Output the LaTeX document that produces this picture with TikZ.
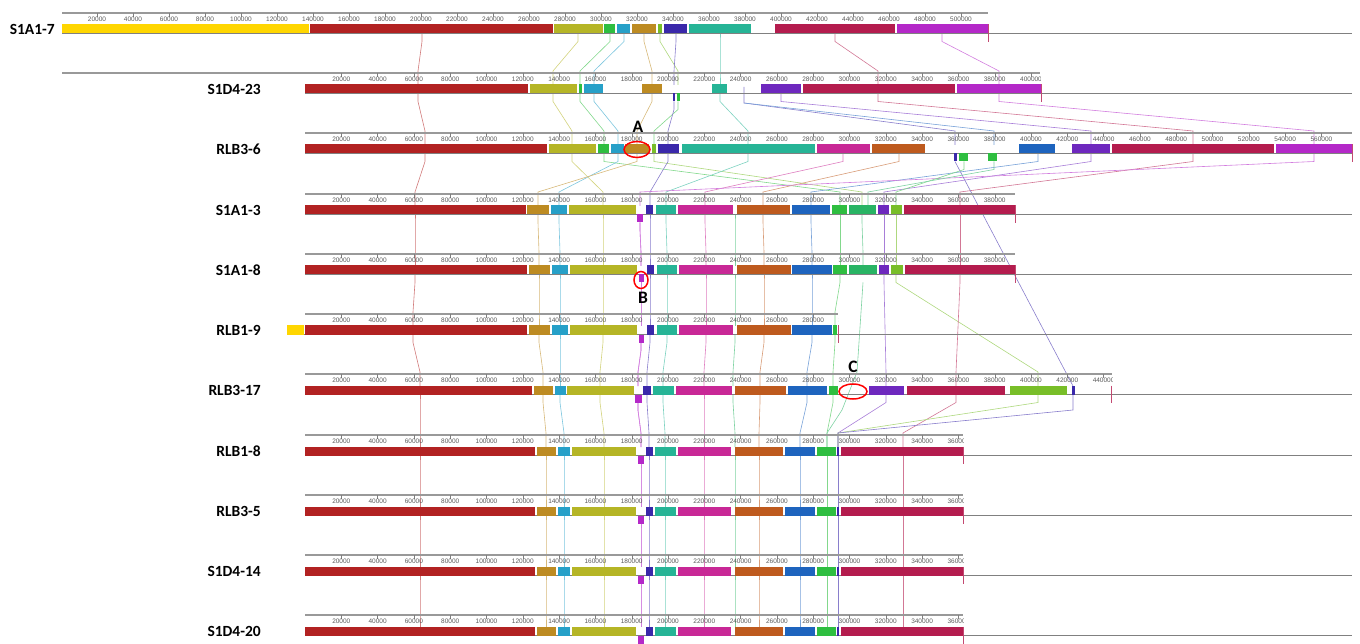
\documentclass[tikz,border=0pt]{standalone}
\usepackage{fontspec}
\setmainfont{Liberation Sans}
\newfontfamily\lblfont{Carlito}
\usetikzlibrary{positioning}
\definecolor{cY}{RGB}{255,214,0}
\definecolor{cR}{RGB}{178,34,34}
\definecolor{cO}{RGB}{181,181,38}
\definecolor{cG}{RGB}{46,190,64}
\definecolor{cB}{RGB}{38,160,200}
\definecolor{cAu}{RGB}{189,139,34}
\definecolor{cYG}{RGB}{120,190,40}
\definecolor{cDB}{RGB}{58,40,170}
\definecolor{cT}{RGB}{38,180,150}
\definecolor{cC}{RGB}{180,28,78}
\definecolor{cV}{RGB}{180,40,200}
\definecolor{cPM}{RGB}{200,40,150}
\definecolor{cOr}{RGB}{190,90,30}
\definecolor{cRB}{RGB}{30,100,190}
\definecolor{cP}{RGB}{110,40,190}
\definecolor{cSG}{RGB}{40,180,100}
\tikzset{
  trk/.style={font=\lblfont\bfseries\fontsize{15.5}{16}\selectfont, anchor=east, inner sep=0pt},
  num/.style={font=\fontsize{6.5}{7}\selectfont, text=black!65, inner sep=0pt},
  lnk/.style={draw=#1!60!white, line width=0.6pt},
  rul/.style={draw=black!40, line width=1.2pt},
  base/.style={draw=black!50, line width=0.8pt},
  hilite/.style={draw=red, line width=1.5pt},
  tag/.style={font=\lblfont\bfseries\fontsize{17.5}{18}\selectfont, inner sep=0pt}
}

\begin{document}
\begin{tikzpicture}[x=1pt, y=-1pt]
  \useasboundingbox (0,0) rectangle (1360,644);

  % connecting lines between the genomes
  \foreach \ya/\yb/\lst in {
    33.5/73/{422/418/cR, 578/553/cO, 610/580/cG, 624/594/cB, 644/652/cAu, 660/678/cYG, 676/674/cDB, 720/720/cT, 835/878/cC, 942/999/cV},
    93.5/133/{418/425/cR, 553/572/cO, 580/604/cG, 594/618/cB, 652/637/cAu, 720/748/cT, 781/1091/cP, 878/1193/cC, 999/1314/cV},
    101.5/133/{678/654/cG, 674/668/cDB},
    153.5/194/{425/415/cR, 572/603/cO, 604/840/cG, 618/559/cB, 637/538/cAu, 654/862/cYG, 668/650/cDB, 748/666/cT, 843/705/cPM, 899/763/cOr, 1038/811/cRB, 1091/884/cP, 1193/960/cC, 1314/640/cV},
    161.5/194/{964/896/cG, 994/868/cSG},
    214.5/254/{415/415/cR, 538/539/cAu, 559/560/cB, 603/603/cO, 650/650/cDB, 666/667/cT, 705/706/cPM, 735/735/cSG, 763/764/cOr, 811/812/cRB, 840/840/cG, 862/863/cSG, 884/884/cP, 896/896/cYG, 960/960/cC},
    222.5/254/{640/641/cV, 640/641/cV},
    274.5/314/{415/413/cR, 539/539/cAu, 560/560/cB, 603/603/cO, 650/650/cDB, 667/667/cT, 706/706/cPM, 735/735/cSG, 764/764/cOr, 812/812/cRB, 840/835/cG},
    274.5/374/{884/886/cP, 896/1038/cYG, 960/956/cC},
    282.5/314/{641/641/cV, 641/641/cV},
    334.5/374/{413/420/cR, 539/543/cAu, 560/560/cB, 603/600/cO, 650/647/cDB, 667/663/cT, 706/704/cPM, 735/733/cSG, 764/760/cOr, 812/807/cRB, 835/833/cG},
    342.5/374/{641/638/cV, 641/638/cV},
    394.5/435/{420/420/cR, 543/546/cAu, 560/564/cB, 600/604/cO, 647/649/cDB, 663/665/cT, 704/704/cPM, 733/735/cSG, 760/759/cOr, 807/800/cRB, 833/827/cG, 886/838/cP, 956/903/cC, 1038/838/cYG},
    402.5/435/{638/641/cV, 638/641/cV},
    455.5/495/{420/420/cR, 546/546/cAu, 564/564/cB, 604/604/cO, 649/649/cDB, 665/665/cT, 704/704/cPM, 735/735/cSG, 759/759/cOr, 800/800/cRB, 827/827/cG, 838/838/cDB, 903/903/cC},
    463.5/495/{641/641/cV, 641/641/cV},
    515.5/555/{420/420/cR, 546/546/cAu, 564/564/cB, 604/604/cO, 649/649/cDB, 665/665/cT, 704/704/cPM, 735/735/cSG, 759/759/cOr, 800/800/cRB, 827/827/cG, 838/838/cDB, 903/903/cC},
    523.5/555/{641/641/cV, 641/641/cV},
    575.5/615/{420/420/cR, 546/546/cAu, 564/564/cB, 604/604/cO, 649/649/cDB, 665/665/cT, 704/704/cPM, 735/735/cSG, 759/759/cOr, 800/800/cRB, 827/827/cG, 838/838/cDB, 903/903/cC},
    583.5/615/{641/641/cV, 641/641/cV}} {
    \foreach \xa/\xb/\c in \lst
      \draw[lnk=\c] (\xa,\ya) -- ++(0,8) -- (\xb,\yb-2) -- (\xb,\yb+12);
  }
  \draw[lnk=cSG] (863,282.5) -- (857,372) -- (842,410) -- (827,433) -- (827,447);
  \draw[lnk=cDB] (955,161.5) -- (1073,386);
  \draw[lnk=cDB] (744,87) -- (744,103) -- (955,131) -- (955,145);
  \draw[lnk=cRB] (744,103) -- (994,131) -- (994,145);
  \draw[lnk=cDB] (1073,386) -- (1073,410) -- (838,433) -- (838,447);

  % rulers with coordinates
  \foreach \r/\org/\stp/\nn/\ra/\rb in {
    13/61/36/25/62/988, 73/305/36.3/20/62/1040, 133/305/36.3/28/305/1352,
    194/305/36.3/19/305/1015, 254/305/36.3/19/305/1015, 314/305/36.3/15/305/838,
    374/305/36.3/22/305/1112, 435/305/36.3/18/305/963, 495/305/36.3/18/305/963,
    555/305/36.3/18/305/963, 615/305/36.3/18/305/963} {
    \draw[rul] (\ra,\r) -- (\rb,\r);
    \begin{scope}
      \clip (\ra,\r-3) rectangle (\rb,\r+10);
      \foreach \k [evaluate=\k as \lab using int(2*\k)] in {1,...,\nn} {
        \draw[black!50, line width=0.4pt] (\org+\stp*\k,\r) -- ++(0,4);
        \node[num] at (\org+\stp*\k,\r+6) {\lab0000};
      }
    \end{scope}
  }

  % baselines
  \foreach \r/\xa in {13/62, 73/305, 133/305, 194/305, 254/305, 314/287, 374/305, 435/305, 495/305, 555/305, 615/305}
    \draw[base] (\xa,\r+20.5) -- (1352,\r+20.5);

  % end ticks
  \foreach \r/\x in {13/988, 73/1041, 133/1352, 194/1015, 254/1015, 314/838, 374/1111, 435/963, 495/963, 555/963, 615/963}
    \draw[cC!80, line width=0.8pt] (\x,\r+11.5) -- (\x,\r+29);

  % blocks in the bars
  \foreach \r/\lst in {
    13/{62/309/cY, 310/553/cR, 554/603/cO, 604/615/cG, 617/630/cB, 632/656/cAu, 658/662/cYG, 664/687/cDB, 689/751/cT, 775/895/cC, 897/988/cV},
    73/{305/528/cR, 530/577/cO, 579/582/cG, 584/603/cB, 642/662/cAu, 712/727/cT, 761/801/cP, 803/955/cC, 957/1041/cV},
    133/{305/547/cR, 549/596/cO, 598/609/cG, 611/624/cB, 625/649/cAu, 652/656/cYG, 658/679/cDB, 682/815/cT, 817/870/cPM, 872/925/cOr, 1019/1055/cRB, 1072/1110/cP, 1112/1274/cC, 1276/1352/cV},
    194/{305/526/cR, 527/549/cAu, 551/567/cB, 569/636/cO, 646/653/cDB, 656/676/cT, 678/733/cPM, 737/790/cOr, 792/830/cRB, 832/847/cG, 849/876/cSG, 878/889/cP, 891/902/cYG, 904/1015/cC},
    254/{305/527/cR, 529/550/cAu, 552/568/cB, 570/637/cO, 647/654/cDB, 657/677/cT, 679/733/cPM, 737/791/cOr, 792/832/cRB, 833/847/cG, 849/877/cSG, 879/889/cP, 891/903/cYG, 905/1015/cC},
    314/{287/304/cY, 305/527/cR, 529/550/cAu, 552/568/cB, 570/637/cO, 647/654/cDB, 657/677/cT, 679/733/cPM, 737/791/cOr, 792/832/cRB, 833/837/cG},
    374/{305/532/cR, 534/553/cAu, 555/566/cB, 567/634/cO, 643/651/cDB, 653/674/cT, 676/732/cPM, 735/786/cOr, 788/827/cRB, 829/838/cG, 869/904/cP, 907/1005/cC, 1010/1067/cYG, 1072/1074.5/cDB},
    435/{305/535/cR, 537/556/cAu, 558/570/cB, 572/636/cO, 646/653/cDB, 655/676/cT, 678/731/cPM, 735/783/cOr, 785/815/cRB, 817/836/cG, 837/839/cDB, 841/963/cC},
    495/{305/535/cR, 537/556/cAu, 558/570/cB, 572/636/cO, 646/653/cDB, 655/676/cT, 678/731/cPM, 735/783/cOr, 785/815/cRB, 817/836/cG, 837/839/cDB, 841/963/cC},
    555/{305/535/cR, 537/556/cAu, 558/570/cB, 572/636/cO, 646/653/cDB, 655/676/cT, 678/731/cPM, 735/783/cOr, 785/815/cRB, 817/836/cG, 837/839/cDB, 841/963/cC},
    615/{305/535/cR, 537/556/cAu, 558/570/cB, 572/636/cO, 646/653/cDB, 655/676/cT, 678/731/cPM, 735/783/cOr, 785/815/cRB, 817/836/cG, 837/839/cDB, 841/963/cC}} {
    \foreach \xa/\xb/\c in \lst
      \fill[fill=\c] (\xa,\r+11.5) rectangle (\xb,\r+20.5);
  }

  % blocks below the bars
  \foreach \r/\xa/\xb/\c in {73/673/675/cDB, 73/677/680/cG, 133/954/957/cDB, 133/959/968/cG, 133/988/997/cG,
    194/637/643/cV, 254/639/644/cV, 314/639/644/cV, 374/635/642/cV, 435/638/644/cV,
    495/638/644/cV, 555/638/644/cV, 615/638/644/cV}
    \fill[fill=\c] (\xa,\r+20.5) rectangle (\xb,\r+28.5);

  % genome names
  \node[trk] (nS1A17) at (55,29) {S1A1-7};
  \node[trk] (nS1D423) at (261,89) {S1D4-23};
  \node[trk] (nRLB36) at (261,149) {RLB3-6};
  \node[trk] (nS1A13) at (261,210) {S1A1-3};
  \node[trk] (nS1A18) at (261,270) {S1A1-8};
  \node[trk] (nRLB19) at (261,330) {RLB1-9};
  \node[trk] (nRLB317) at (261,390) {RLB3-17};
  \node[trk] (nRLB18) at (261,451) {RLB1-8};
  \node[trk] (nRLB35) at (261,511) {RLB3-5};
  \node[trk] (nS1D414) at (261,571) {S1D4-14};
  \node[trk] (nS1D420) at (261,631) {S1D4-20};

  % marked regions
  \draw[hilite] (637,149.5) ellipse [x radius=13pt, y radius=8pt];
  \node[tag] (tA) at (638,127) {A};
  \draw[hilite] (641,280) ellipse [x radius=7pt, y radius=8.5pt];
  \node[tag] (tB) at (643,298) {B};
  \draw[hilite] (853,391.5) ellipse [x radius=14pt, y radius=7.5pt];
  \node[tag] (tC) at (853,367) {C};
\end{tikzpicture}
\end{document}
